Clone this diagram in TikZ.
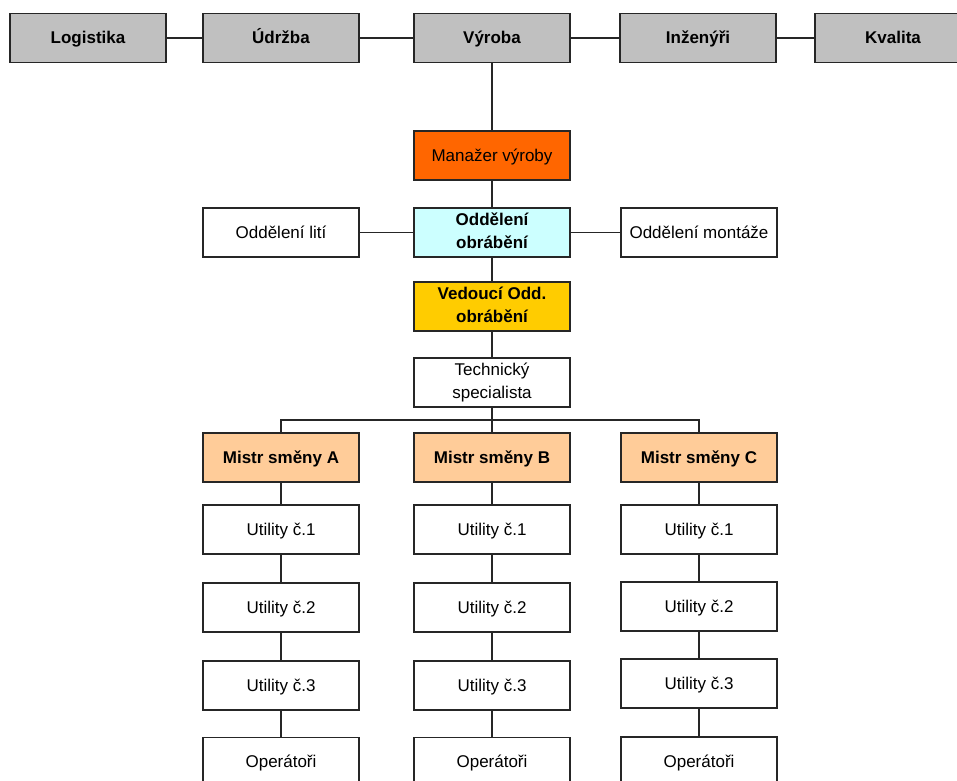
\documentclass[tikz,border=0pt]{standalone}
\usepackage{fontspec}
\setmainfont{Liberation Sans}
\usetikzlibrary{positioning}

\definecolor{headgray}{HTML}{C0C0C0}
\definecolor{mgrorange}{HTML}{FF6600}
\definecolor{deptcyan}{HTML}{CCFFFF}
\definecolor{leadyellow}{HTML}{FFCC00}
\definecolor{shiftpeach}{HTML}{FFCC99}

\begin{document}
\begin{tikzpicture}[%
x=1pt, y=1pt,
on grid,
node distance=77pt,
box/.style={draw=black!85, line width=1.4pt, fill=white,
  minimum width=156pt, minimum height=49pt, inner sep=1pt,
  align=center, font=\fontsize{17}{22.5}\selectfont,
  execute at begin node=\vphantom{Ág}},
boldbox/.style={box, font=\fontsize{17}{22.5}\selectfont\bfseries},
head/.style={boldbox, fill=headgray},
link/.style={draw=black!85, line width=1.2pt}
]
\useasboundingbox (0,0) rectangle (957,780);

% top row
\node[head] (vyroba) at (492,742) {Výroba};
\node[head] (udrzba) [left=211pt of vyroba] {Údržba};
\node[head] (logistika) [left=193pt of udrzba] {Logistika};
\node[head] (inzenyri) [right=206pt of vyroba] {Inženýři};
\node[head] (kvalita) [right=195pt of inzenyri] {Kvalita};

% management
\node[box, fill=mgrorange] (manazer) [below=117.5pt of vyroba] {Manažer výroby};
\node[boldbox, fill=deptcyan] (obrab) [below=77pt of manazer] {Oddělení\\obrábění};
\node[box] (liti) [left=211pt of obrab] {Oddělení lití};
\node[box] (montaz) [right=207pt of obrab] {Oddělení montáže};
\node[boldbox, fill=leadyellow] (vedouci) [below=74pt of obrab] {Vedoucí Odd.\\obrábění};
\node[box] (tech) [below=76pt of vedouci] {Technický\\specialista};
\coordinate[below=37.5pt of tech] (bus);

% shift masters
\node[boldbox, fill=shiftpeach] (mistrB) [below=75pt of tech] {Mistr směny B};
\node[boldbox, fill=shiftpeach] (mistrA) [left=211pt of mistrB] {Mistr směny A};
\node[boldbox, fill=shiftpeach] (mistrC) [right=207pt of mistrB] {Mistr směny C};

% shift A
\node[box] (a1) [below=72pt of mistrA] {Utility č.1};
\node[box] (a2) [below=78pt of a1] {Utility č.2};
\node[box] (a3) [below=78pt of a2] {Utility č.3};
\node[box] (aop) [below=76.5pt of a3] {Operátoři};

% shift B
\node[box] (b1) [below=72pt of mistrB] {Utility č.1};
\node[box] (b2) [below=78pt of b1] {Utility č.2};
\node[box] (b3) [below=78pt of b2] {Utility č.3};
\node[box] (bop) [below=76.5pt of b3] {Operátoři};

% shift C
\node[box] (c1) [below=72pt of mistrC] {Utility č.1};
\node[box] (c2) [below=77pt of c1] {Utility č.2};
\node[box] (c3) [below=77pt of c2] {Utility č.3};
\node[box] (cop) [below=78pt of c3] {Operátoři};

% connectors
\path[link] (logistika) -- (udrzba);
\path[link] (udrzba) -- (vyroba);
\path[link] (vyroba) -- (inzenyri);
\path[link] (inzenyri) -- (kvalita);
\path[link] (vyroba) -- (manazer);
\path[link] (manazer) -- (obrab);
\path[link] (liti) -- (obrab);
\path[link] (obrab) -- (montaz);
\path[link] (obrab) -- (vedouci);
\path[link] (vedouci) -- (tech);
\path[link] (tech) -- (mistrB);
\path[link] (mistrA) |- (bus) -| (mistrC);

\path[link] (mistrA) -- (a1);
\path[link] (a1) -- (a2);
\path[link] (a2) -- (a3);
\path[link] (a3) -- (aop);

\path[link] (mistrB) -- (b1);
\path[link] (b1) -- (b2);
\path[link] (b2) -- (b3);
\path[link] (b3) -- (bop);

\path[link] (mistrC) -- (c1);
\path[link] (c1) -- (c2);
\path[link] (c2) -- (c3);
\path[link] (c3) -- (cop);
\end{tikzpicture}
\end{document}
